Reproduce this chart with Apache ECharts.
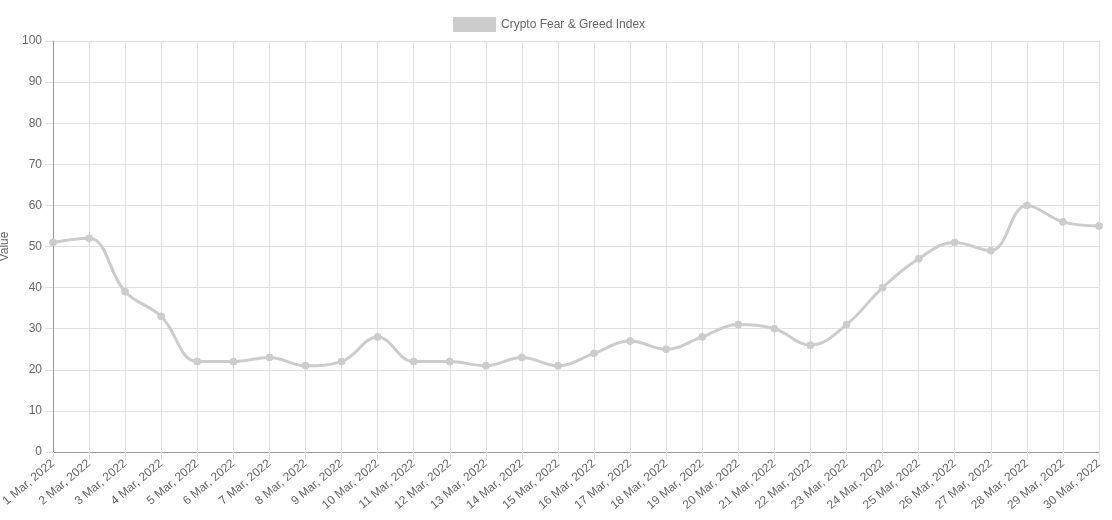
<!DOCTYPE html>
<html>
<head>
<meta charset="utf-8">
<script src="https://cdn.jsdelivr.net/npm/echarts@6/dist/echarts.min.js"></script>
<style>
html,body{margin:0;padding:0;background:#fff;}
#chart{width:1112px;height:520px;}
</style>
</head>
<body>
<div id="chart"></div>
<script>
var categories = ['1 Mar, 2022','2 Mar, 2022','3 Mar, 2022','4 Mar, 2022','5 Mar, 2022','6 Mar, 2022','7 Mar, 2022','8 Mar, 2022','9 Mar, 2022','10 Mar, 2022','11 Mar, 2022','12 Mar, 2022','13 Mar, 2022','14 Mar, 2022','15 Mar, 2022','16 Mar, 2022','17 Mar, 2022','18 Mar, 2022','19 Mar, 2022','20 Mar, 2022','21 Mar, 2022','22 Mar, 2022','23 Mar, 2022','24 Mar, 2022','25 Mar, 2022','26 Mar, 2022','27 Mar, 2022','28 Mar, 2022','29 Mar, 2022','30 Mar, 2022'];
var fearGreed = [51,52,39,33,22,22,23,21,22,28,22,22,21,23,21,24,27,25,28,31,30,26,31,40,47,51,49,60,56,55];
var seriesName = 'Crypto Fear & Greed Index';
var yAxisName = 'Value';

var chart = echarts.init(document.getElementById('chart'), null, {renderer:'canvas'});
chart.setOption({
  animation:false,
  textStyle:{fontFamily:'Liberation Sans, Arial, sans-serif'},
  legend:{
    data:[{name:seriesName, icon:'rect'}],
    left:448, top:12,
    itemWidth:43, itemHeight:15, itemGap:10,
    textStyle:{color:'#666', fontSize:12, fontFamily:'Liberation Sans, Arial, sans-serif'},
    selectedMode:false
  },
  grid:{left:53, right:13, top:41, bottom:68, containLabel:false, outerBoundsMode:'none'},
  xAxis:{
    type:'category',
    data:categories,
    boundaryGap:false,
    axisLine:{show:true, lineStyle:{color:'#999', width:1}},
    axisTick:{show:true, alignWithLabel:true, length:8, lineStyle:{color:'#e0e0e0'}},
    splitLine:{show:true, lineStyle:{color:'#e0e0e0', width:1}},
    axisLabel:{color:'#666', fontSize:12, rotate:40, interval:0, margin:10, fontFamily:'Liberation Sans, Arial, sans-serif'}
  },
  yAxis:{
    type:'value',
    min:0, max:100, interval:10,
    name:yAxisName,
    nameLocation:'middle',
    nameGap:41,
    nameRotate:90,
    nameTextStyle:{color:'#666', fontSize:12, fontFamily:'Liberation Sans, Arial, sans-serif'},
    axisLine:{show:true, lineStyle:{color:'#999', width:1}},
    axisTick:{show:true, length:8, lineStyle:{color:'#e0e0e0'}},
    splitLine:{show:true, lineStyle:{color:'#e0e0e0', width:1}},
    axisLabel:{color:'#666', fontSize:12, margin:11, fontFamily:'Liberation Sans, Arial, sans-serif'}
  },
  series:[{
    name:seriesName,
    type:'line',
    data:fearGreed,
    smooth:0.4,
    symbol:'circle',
    symbolSize:7,
    showSymbol:true,
    lineStyle:{color:'#cccccc', width:3},
    itemStyle:{color:'#cccccc', borderColor:'#cccccc'},
    emphasis:{disabled:true}
  }]
});
</script>
</body>
</html>
